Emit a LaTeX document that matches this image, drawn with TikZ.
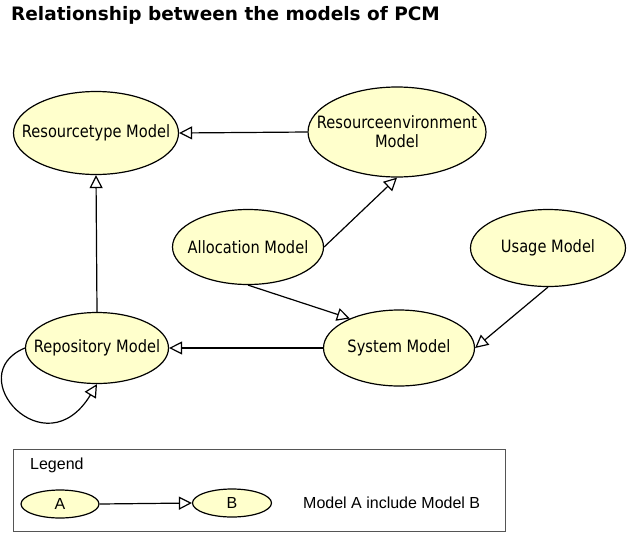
\documentclass[tikz,border=0pt]{standalone}
\usepackage{fontspec}
\setmainfont{DejaVu Sans}
\newfontfamily\modelfont{DejaVu Sans}[FakeStretch=0.86]
\newfontfamily\legendfont{Liberation Sans}
\usepackage{xcolor}
\usepackage{tikz}
\usetikzlibrary{arrows.meta, calc, shapes.geometric}
\definecolor{pcmYellow}{HTML}{FFFFCC}
\definecolor{legendGray}{HTML}{555555}
\tikzset{
  model/.style={ellipse, draw=black, fill=pcmYellow, line width=1.2pt, inner sep=0pt},
  modeltext/.style={font=\modelfont\fontsize{17}{19}\selectfont, align=center, inner sep=0pt},
  legendtext/.style={font=\legendfont\fontsize{16}{18}\selectfont, inner sep=0pt},
  incl/.style={line width=1.2pt, -{Triangle[length=13pt, width=13pt, fill=white]}},
}

\begin{document}
\begin{tikzpicture}[x=1pt, y=-1pt]
  \useasboundingbox (0,0) rectangle (628,533);
  \node[anchor=base west, inner sep=0pt, font=\bfseries\fontsize{18.5}{20}\selectfont] (title) at (11,20) {Relationship between the models of PCM};
  % models
  \node[model, minimum width=165pt, minimum height=83pt, label={[modeltext]center:Resourcetype Model}] (restype) at (96,133) {};
  \node[model, minimum width=178pt, minimum height=90pt, label={[modeltext]center:Resourceenvironment\\Model}] (resenv) at (397,132) {};
  \node[model, minimum width=151pt, minimum height=75pt, label={[modeltext]center:Allocation Model}] (alloc) at (248,247) {};
  \node[model, minimum width=155pt, minimum height=77pt, label={[modeltext]center:Usage Model}] (usage) at (548,248) {};
  \node[model, minimum width=151pt, minimum height=76pt, label={[modeltext]center:System Model}] (system) at (399,348) {};
  \node[model, minimum width=143pt, minimum height=71pt, label={[modeltext]center:Repository Model}] (repo) at (97,348) {};
  % include relations
  \draw[incl] (resenv.west) -- (restype.east);
  \draw[incl] (alloc.east) -- (resenv.south);
  \draw[incl] (alloc.south) -- (system.149);
  \draw[incl] (usage.south) -- (system.east);
  \draw[incl] (system.west) -- (repo.east);
  \draw[incl] (repo.north) -- (restype.south);
  \draw[incl] (repo.west) .. controls (-40,375) and (45,470) .. (repo.south);
  % legend
  \draw[legendGray, line width=0.8pt] (13,449) rectangle (505,531);
  \node[anchor=west, legendtext] (legend) at (30,465) {Legend};
  \node[model, minimum width=78pt, minimum height=28pt, label={[legendtext]center:A}] (a) at (60,504) {};
  \node[model, minimum width=79pt, minimum height=28pt, label={[legendtext]center:B}] (b) at (232,503) {};
  \draw[incl] (a.east) -- (b.west);
  \node[anchor=west, legendtext] (note) at (303,503) {Model A include Model B};
\end{tikzpicture}
\end{document}
